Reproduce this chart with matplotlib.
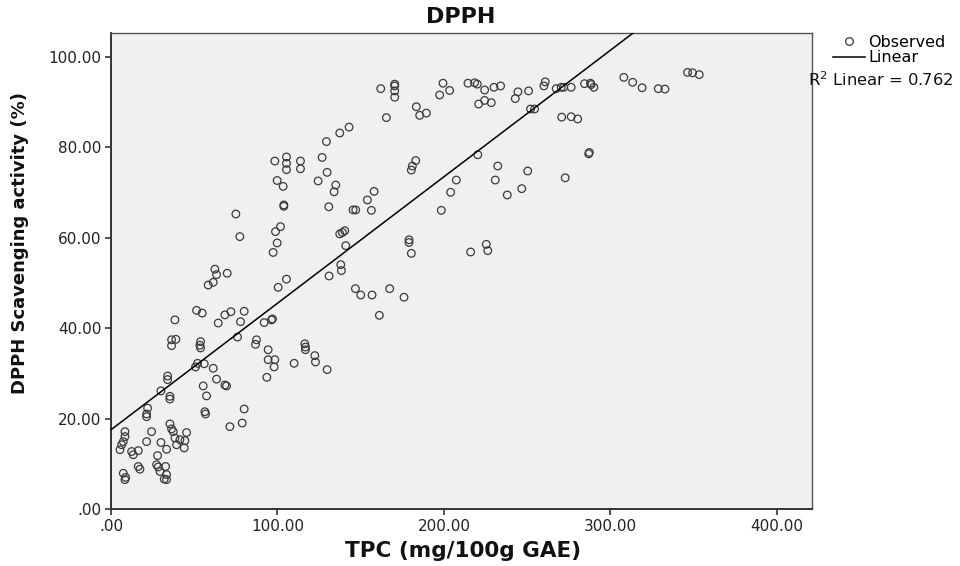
import numpy as np
import matplotlib
matplotlib.use("Agg")
import matplotlib.pyplot as plt
from matplotlib.lines import Line2D

plt.rcParams['font.family'] = ['DejaVu Sans']

# Observed data (TPC in mg/100g GAE, DPPH scavenging %)
tpc = [
    162, 170.4, 170.4, 170.4, 170.4, 165.4, 183.4, 185.4, 189.4, 199.4, 197.4, 203.4,
    143, 137.4, 129.4, 126.8, 129.8, 124.4, 135, 134, 130.8, 98.4, 105.4, 105.4, 105.4,
    113.8, 113.8, 99.8, 103.4, 103.8, 103.8, 75, 77.4, 101.8, 98.8, 99.8, 97.4,
    140.4, 139, 137.4, 141, 147, 145.4, 156.4, 154, 158, 183, 181, 180.4, 198.4, 204,
    207.4, 179, 179, 180.4, 214.4, 218.4, 220, 224.4, 230, 234, 220.8, 224.4, 228.4,
    244.4, 250.8, 242.8, 260.8, 260, 267.4, 270.4, 271.9, 276.4, 284.4, 288, 290, 288.4,
    308, 313.3, 319, 328.7, 332.7, 346.3, 349.3, 353.3, 252, 254.4, 270.7, 276.4, 280.3,
    287.3, 286.9, 220.3, 232.3, 250.3, 230.8, 272.8, 246.7, 238, 216, 225.4, 226.3,
    62.4, 63.4, 69.8, 58.4, 61.4, 100.4, 105.4, 38.4, 51.4, 54.8, 64.4, 68.4, 72, 80,
    77.8, 92, 96.4, 97, 36.4, 39, 36.4, 53.8, 53.4, 53.8, 76, 87.4, 86.8, 94.4, 94.4,
    98.4, 98, 93.6, 52, 56, 50.8, 61.4, 34, 34, 63.4, 138, 138.4, 131, 146.8, 150, 156.8,
    167.4, 176, 161.2, 116.4, 116.8, 116.8, 122.4, 122.8, 110, 129.8,
    30, 35.4, 35.4, 22, 21.4, 21.4, 55.4, 57.4, 68.4, 69.4, 56.4, 56.8, 80, 78.8, 71.4,
    8.4, 8.4, 7.4, 6.4, 5.4, 24.4, 21.4, 35.4, 36.4, 37.4, 45.4, 38.4, 41.4, 44.4, 30,
    33.4, 39.4, 44, 12.4, 16.4, 13.4, 28, 27.4, 28.4, 32.8, 16.4, 17.4, 29.4, 33.4, 32,
    33.4, 7.4, 8.8, 8.4,
]
dpph = [
    92.9, 93.9, 93.5, 92.4, 91.0, 86.5, 88.9, 87.0, 87.5, 94.1, 91.5, 92.5,
    84.4, 83.1, 81.2, 77.7, 74.4, 72.5, 71.6, 70.1, 66.8, 76.9, 77.8, 76.4, 75.0,
    76.9, 75.2, 72.6, 71.3, 67.2, 66.9, 65.2, 60.2, 62.4, 61.3, 58.8, 56.7,
    61.5, 61.1, 60.8, 58.2, 66.1, 66.1, 66.0, 68.3, 70.2, 77.0, 75.8, 74.9, 66.0, 70.0,
    72.7, 59.5, 58.9, 56.5, 94.1, 94.2, 93.9, 92.6, 93.2, 93.5, 89.5, 90.3, 89.8,
    92.2, 92.4, 90.7, 94.4, 93.5, 92.9, 93.2, 93.2, 93.2, 94.0, 94.1, 93.2, 93.8,
    95.4, 94.3, 93.1, 92.9, 92.8, 96.5, 96.4, 96.0, 88.4, 88.4, 86.6, 86.7, 86.2,
    78.8, 78.5, 78.3, 75.8, 74.7, 72.7, 73.2, 70.8, 69.4, 56.8, 58.5, 57.1,
    53.0, 51.8, 52.1, 49.5, 50.1, 49.0, 50.8, 41.8, 43.9, 43.3, 41.1, 42.9, 43.6, 43.7,
    41.4, 41.2, 41.8, 42.0, 37.4, 37.5, 36.1, 37.0, 36.2, 35.6, 38.0, 37.4, 36.4, 35.2, 33.0,
    33.0, 31.4, 29.1, 32.2, 32.1, 31.4, 31.1, 29.4, 28.6, 28.7, 54.0, 52.7, 51.5, 48.7, 47.3, 47.3,
    48.7, 46.8, 42.8, 36.5, 35.8, 35.2, 33.9, 32.5, 32.2, 30.8,
    26.1, 24.9, 24.3, 22.3, 21.0, 20.4, 27.2, 25.0, 27.4, 27.2, 21.5, 21.0, 22.1, 19.0, 18.2,
    17.1, 16.0, 14.9, 14.2, 13.1, 17.1, 14.9, 18.8, 17.7, 17.1, 16.9, 15.7, 15.3, 15.1, 14.7,
    13.2, 14.2, 13.5, 12.7, 12.9, 12.0, 11.8, 9.8, 9.3, 9.4, 9.4, 8.8, 8.3, 7.6, 6.6,
    6.5, 7.9, 7.0, 6.5,
]
x_ticks = [0, 100, 200, 300, 400]
x_tick_labels = [".00", "100.00", "200.00", "300.00", "400.00"]
y_ticks = [0, 20, 40, 60, 80, 100]
y_tick_labels = [".00", "20.00", "40.00", "60.00", "80.00", "100.00"]
r2_text = "R$^2$ Linear = 0.762"

tpc = np.array(tpc)
dpph = np.array(dpph)

fig = plt.figure(figsize=(9.6, 5.66), dpi=100)
ax = fig.add_axes([0.1156, 0.1007, 0.7302, 0.8410])
ax.set_facecolor('#f0f0f0')

ax.scatter(tpc, dpph, s=30, facecolors='none', edgecolors='#3a3a3a', linewidths=0.9, zorder=3)

slope, intercept = np.polyfit(tpc, dpph, 1)
xl = np.array([0, 421])
ax.plot(xl, intercept + slope * xl, color='black', lw=1.1, zorder=4)

ax.set_xlim(0, 421)
ax.set_ylim(0, 105.2)
ax.set_xticks(x_ticks)
ax.set_xticklabels(x_tick_labels)
ax.set_yticks(y_ticks)
ax.set_yticklabels(y_tick_labels)
ax.tick_params(axis='both', direction='out', length=4, width=1.2, color='#333333',
               labelsize=11, labelcolor='#222222', pad=3)
for side in ['left', 'bottom']:
    ax.spines[side].set_color('#333333')
    ax.spines[side].set_linewidth(1.4)
for side in ['top', 'right']:
    ax.spines[side].set_color('#555555')
    ax.spines[side].set_linewidth(1.0)

fig.text(461 / 960, 1 - 17 / 566, "DPPH", ha='center', va='center',
         fontsize=16, fontweight='bold', color='#111111')
fig.text(463 / 960, 1 - 551 / 566, "TPC (mg/100g GAE)", ha='center', va='center',
         fontsize=15.5, fontweight='bold', color='#111111')
fig.text(20 / 960, 1 - 243 / 566, "DPPH Scavenging activity (%)", ha='center', va='center',
         rotation=90, fontsize=13, fontweight='bold', color='#111111')

handles = [
    Line2D([], [], marker='o', ls='none', mfc='none', mec='#3a3a3a', ms=5.5, mew=0.9),
    Line2D([], [], color='black', lw=1.1),
]
fig.legend(handles, ["Observed", "Linear"], loc='upper left',
           bbox_to_anchor=(833 / 960, 1 - 35 / 566), frameon=False,
           fontsize=11.5, handlelength=2.0, handletextpad=0.2, labelspacing=0.02,
           borderpad=0, borderaxespad=0)
fig.text(808 / 960, 1 - 80 / 566, r2_text, ha='left', va='center', fontsize=11.8, color='#111111')

fig.savefig("out.png", dpi=100)
